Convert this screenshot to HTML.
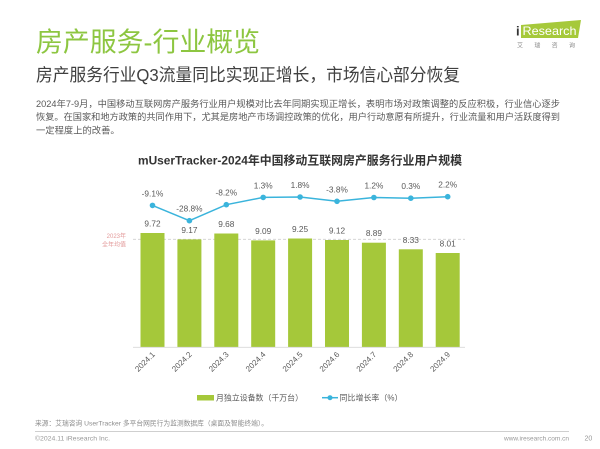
<!DOCTYPE html>
<html>
<head>
<meta charset="utf-8">
<style>
  html,body{margin:0;padding:0;background:#fff;}
  body{width:600px;height:449px;overflow:hidden;position:relative;}
  svg{position:absolute;left:0;top:0;}
  text{font-family:"Liberation Sans","Noto Sans CJK SC",sans-serif;}
</style>
</head>
<body>
<svg width="600" height="449" viewBox="0 0 600 449" xmlns="http://www.w3.org/2000/svg">
  <rect width="600" height="449" fill="#ffffff"/>

  <!-- Header -->
  <text x="36" y="51.5" font-size="27" fill="#8dc641" textLength="224" lengthAdjust="spacingAndGlyphs">房产服务-行业概览</text>
  <text x="36" y="81" font-size="17.5" fill="#404040" textLength="424" lengthAdjust="spacingAndGlyphs">房产服务行业Q3流量同比实现正增长，市场信心部分恢复</text>

  <text x="36" y="106.8" font-size="9.3" fill="#595959" textLength="524" lengthAdjust="spacingAndGlyphs">2024年7-9月，中国移动互联网房产服务行业用户规模对比去年同期实现正增长，表明市场对政策调整的反应积极，行业信心逐步</text>
  <text x="36" y="120.2" font-size="9.3" fill="#595959" textLength="524" lengthAdjust="spacingAndGlyphs">恢复。在国家和地方政策的共同作用下，尤其是房地产市场调控政策的优化，用户行动意愿有所提升，行业流量和用户活跃度得到</text>
  <text x="36" y="133.5" font-size="9.3" fill="#595959">一定程度上的改善。</text>

  <!-- Logo -->
  <polygon points="521,25 581,20 578,38 521,38" fill="#a6c93a"/>
  <text x="516" y="35.5" font-size="13" fill="#333" font-weight="bold">i</text>
  <text x="522.5" y="35" font-size="12" fill="#ffffff" textLength="54" lengthAdjust="spacingAndGlyphs">Research</text>
  <text x="517" y="47.5" font-size="6" fill="#888" textLength="58" lengthAdjust="spacing">艾瑞咨询</text>

  <!-- Chart title -->
  <text x="138" y="164.5" font-size="12" font-weight="bold" fill="#333" textLength="324" lengthAdjust="spacingAndGlyphs">mUserTracker-2024年中国移动互联网房产服务行业用户规模</text>

  <!-- Average dashed line -->
  <line x1="133" y1="239.3" x2="465" y2="239.3" stroke="#cfcfcf" stroke-width="0.8" stroke-dasharray="3,2"/>
  <text x="126" y="238" font-size="6" fill="#e39a9a" text-anchor="end">2023年</text>
  <text x="126" y="246.3" font-size="6" fill="#e39a9a" text-anchor="end">全年均值</text>

  <!-- Bars -->
  <g fill="#a5c83a">
    <rect x="140.5" y="233.0" width="24" height="114.0"/>
    <rect x="177.4" y="239.4" width="24" height="107.6"/>
    <rect x="214.3" y="233.5" width="24" height="113.5"/>
    <rect x="251.2" y="240.4" width="24" height="106.6"/>
    <rect x="288.1" y="238.5" width="24" height="108.5"/>
    <rect x="325.0" y="240.0" width="24" height="107.0"/>
    <rect x="361.9" y="242.7" width="24" height="104.3"/>
    <rect x="398.8" y="249.3" width="24" height="97.7"/>
    <rect x="435.7" y="253.0" width="24" height="94.0"/>
  </g>

  <!-- Axis baseline -->
  <line x1="133" y1="347.3" x2="465" y2="347.3" stroke="#d9d9d9" stroke-width="0.8"/>

  <!-- Bar value labels -->
  <g font-size="8.3" fill="#595959" text-anchor="middle">
    <text x="152.5" y="226.5">9.72</text>
    <text x="189.4" y="232.9">9.17</text>
    <text x="226.3" y="227.0">9.68</text>
    <text x="263.2" y="233.9">9.09</text>
    <text x="300.1" y="232.0">9.25</text>
    <text x="337.0" y="233.5">9.12</text>
    <text x="373.9" y="236.2">8.89</text>
    <text x="410.8" y="242.8">8.33</text>
    <text x="447.7" y="246.5">8.01</text>
  </g>

  <!-- Growth line -->
  <polyline fill="none" stroke="#3ab4dc" stroke-width="1.5"
    points="152.5,205.4 189.4,220.7 226.3,204.7 263.2,197.4 300.1,197.0 337.0,201.3 373.9,197.5 410.8,198.2 447.7,196.7"/>
  <g fill="#3ab4dc">
    <circle cx="152.5" cy="205.4" r="2.8"/>
    <circle cx="189.4" cy="220.7" r="2.8"/>
    <circle cx="226.3" cy="204.7" r="2.8"/>
    <circle cx="263.2" cy="197.4" r="2.8"/>
    <circle cx="300.1" cy="197.0" r="2.8"/>
    <circle cx="337.0" cy="201.3" r="2.8"/>
    <circle cx="373.9" cy="197.5" r="2.8"/>
    <circle cx="410.8" cy="198.2" r="2.8"/>
    <circle cx="447.7" cy="196.7" r="2.8"/>
  </g>
  <g font-size="8.3" fill="#595959" text-anchor="middle">
    <text x="152.5" y="196.4">-9.1%</text>
    <text x="189.4" y="211.7">-28.8%</text>
    <text x="226.3" y="195.7">-8.2%</text>
    <text x="263.2" y="188.4">1.3%</text>
    <text x="300.1" y="188.0">1.8%</text>
    <text x="337.0" y="192.3">-3.8%</text>
    <text x="373.9" y="188.5">1.2%</text>
    <text x="410.8" y="189.2">0.3%</text>
    <text x="447.7" y="187.7">2.2%</text>
  </g>

  <!-- X labels -->
  <g font-size="8" fill="#595959" text-anchor="end">
    <text transform="translate(155.5,355) rotate(-45)">2024.1</text>
    <text transform="translate(192.4,355) rotate(-45)">2024.2</text>
    <text transform="translate(229.3,355) rotate(-45)">2024.3</text>
    <text transform="translate(266.2,355) rotate(-45)">2024.4</text>
    <text transform="translate(303.1,355) rotate(-45)">2024.5</text>
    <text transform="translate(340.0,355) rotate(-45)">2024.6</text>
    <text transform="translate(376.9,355) rotate(-45)">2024.7</text>
    <text transform="translate(413.8,355) rotate(-45)">2024.8</text>
    <text transform="translate(450.7,355) rotate(-45)">2024.9</text>
  </g>

  <!-- Legend -->
  <rect x="197" y="395" width="17" height="5.5" fill="#a5c83a"/>
  <text x="216" y="400.7" font-size="8" fill="#595959" textLength="87" lengthAdjust="spacingAndGlyphs">月独立设备数（千万台）</text>
  <line x1="322" y1="397.7" x2="338" y2="397.7" stroke="#3ab4dc" stroke-width="1.5"/>
  <circle cx="330" cy="397.7" r="2.5" fill="#3ab4dc"/>
  <text x="339.5" y="400.7" font-size="8" fill="#595959" textLength="63" lengthAdjust="spacingAndGlyphs">同比增长率（%）</text>

  <!-- Footer -->
  <text x="35" y="425.3" font-size="6.6" fill="#8c8c8c" textLength="233" lengthAdjust="spacingAndGlyphs">来源：艾瑞咨询 UserTracker 多平台网民行为监测数据库（桌面及智能终端）。</text>
  <line x1="35" y1="431.5" x2="569" y2="431.5" stroke="#bfbfbf" stroke-width="0.7"/>
  <text x="35" y="440.5" font-size="6.6" fill="#999" textLength="75" lengthAdjust="spacingAndGlyphs">©2024.11 iResearch Inc.</text>
  <text x="504" y="440.5" font-size="6.6" fill="#999" textLength="65" lengthAdjust="spacingAndGlyphs">www.iresearch.com.cn</text>
  <text x="584.5" y="440.5" font-size="7" fill="#999">20</text>
</svg>
</body>
</html>
